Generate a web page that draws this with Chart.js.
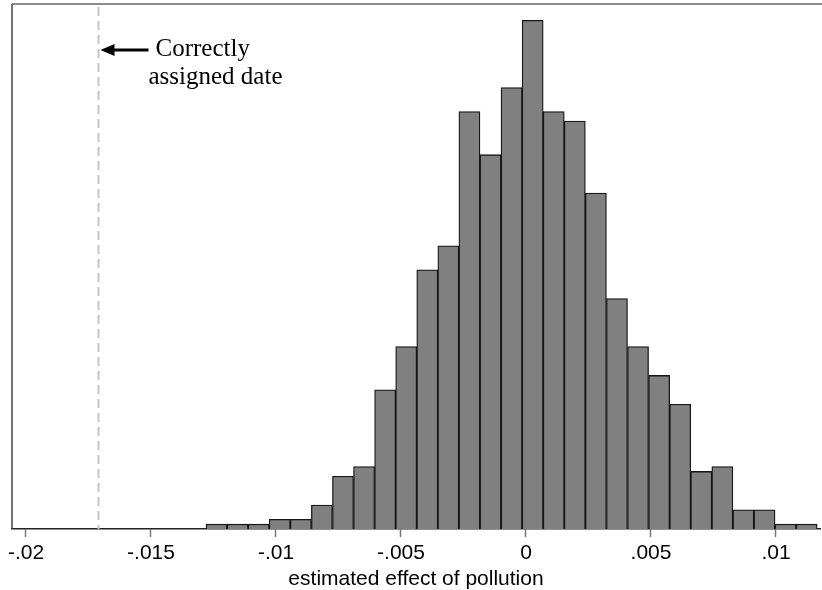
<!DOCTYPE html>
<html>
<head>
<meta charset="utf-8">
<script src="https://cdn.jsdelivr.net/npm/chart.js@4/dist/chart.umd.min.js"></script>
<style>
  body { margin: 0; background: #fff; }
</style>
</head>
<body>
<canvas id="hist" width="822" height="590"></canvas>
<script>
// histogram bins (lower edges + final upper edge) and counts per bin (1000 draws)
const binEdges = [-0.012800, -0.011957, -0.011114, -0.010271, -0.009428, -0.008585,
    -0.007742, -0.006899, -0.006056, -0.005213, -0.004370, -0.003527, -0.002684,
    -0.001841, -0.000998, -0.000155, 0.000688, 0.001531, 0.002374, 0.003217,
    0.004060, 0.004903, 0.005746, 0.006589, 0.007432, 0.008275, 0.009118,
    0.009961, 0.010804, 0.011647];
const counts = [1, 1, 1, 2, 2, 5, 11, 13, 29, 38, 54, 59, 87, 78, 92, 106, 87, 85,
    70, 48, 38, 32, 26, 12, 13, 4, 4, 1, 1];
const xTicks = [-0.02, -0.015, -0.01, -0.005, 0, 0.005, 0.01];
const tickLabels = ['-.02', '-.015', '-.01', '-.005', '0', '.005', '.01'];
const trueEffect = -0.0171;
const noteLines = ['Correctly', 'assigned date'];

const points = counts.map((c, i) => ({ x: (binEdges[i] + binEdges[i + 1]) / 2, y: c }));

const overlay = {
    id: 'overlay',
    beforeDatasetsDraw(chart) {
        const { ctx, chartArea: a, scales: { x } } = chart;
        const px = x.getPixelForValue(trueEffect);
        ctx.save();
        ctx.strokeStyle = '#c6c6c6';
        ctx.lineWidth = 2;
        ctx.setLineDash([9, 5]);
        ctx.beginPath();
        ctx.moveTo(px, a.top + 3);
        ctx.lineTo(px, a.bottom);
        ctx.stroke();
        ctx.restore();
    },
    afterDraw(chart) {
        const { ctx, chartArea: a, scales: { x } } = chart;
        ctx.save();
        // frame: top + left
        ctx.strokeStyle = '#8c8c8c';
        ctx.lineWidth = 2;
        ctx.beginPath();
        ctx.moveTo(a.left, a.top);
        ctx.lineTo(a.right + 2, a.top);
        ctx.stroke();
        ctx.strokeStyle = '#444';
        ctx.lineWidth = 1.5;
        ctx.beginPath();
        ctx.moveTo(a.left, a.top);
        ctx.lineTo(a.left, a.bottom);
        ctx.stroke();

        // arrow + note
        const px = x.getPixelForValue(trueEffect);
        const ay = a.top + 46;
        ctx.strokeStyle = '#000';
        ctx.fillStyle = '#000';
        ctx.lineWidth = 3;
        ctx.beginPath();
        ctx.moveTo(px + 50, ay);
        ctx.lineTo(px + 12, ay);
        ctx.stroke();
        ctx.beginPath();
        ctx.moveTo(px + 2, ay);
        ctx.lineTo(px + 16, ay - 6);
        ctx.lineTo(px + 16, ay + 6);
        ctx.closePath();
        ctx.fill();

        ctx.font = '25px "Liberation Serif", "Times New Roman", serif';
        ctx.textBaseline = 'alphabetic';
        ctx.textAlign = 'left';
        ctx.fillText(noteLines[0], px + 57, a.top + 52);
        ctx.fillText(noteLines[1], px + 50, a.top + 80);
        ctx.restore();
    }
};

new Chart(document.getElementById('hist'), {
    type: 'bar',
    data: {
        datasets: [{
            data: points,
            backgroundColor: '#808080',
            borderColor: '#161616',
            borderWidth: 1.3,
            barPercentage: 1,
            categoryPercentage: 1
        }]
    },
    options: {
        responsive: false,
        animation: false,
        layout: { padding: { left: 12, right: 2, top: 4, bottom: 0 } },
        plugins: { legend: { display: false }, tooltip: { enabled: false } },
        scales: {
            x: {
                type: 'linear',
                offset: false,
                min: -0.02056,
                max: 0.01176,
                afterBuildTicks: (scale) => { scale.ticks = xTicks.map(v => ({ value: v })); },
                afterFit: (scale) => { scale.height = 61; },
                grid: { display: true, drawOnChartArea: false, drawTicks: true, tickLength: 8, tickWidth: 1.5, color: '#777', offset: false },
                border: { display: true, color: '#222', width: 1.5 },
                ticks: {
                    autoSkip: false,
                    maxRotation: 0,
                    padding: 6,
                    color: '#000',
                    font: { family: '"Liberation Sans", Arial, sans-serif', size: 21, lineHeight: 1 },
                    callback: (v, i) => tickLabels[i]
                },
                title: {
                    display: true,
                    text: 'estimated effect of pollution',
                    color: '#000',
                    padding: { top: 5, bottom: 0 },
                    font: { family: '"Liberation Sans", Arial, sans-serif', size: 21, lineHeight: 1 }
                }
            },
            y: {
                display: false,
                min: 0,
                max: 109.4
            }
        }
    },
    plugins: [overlay]
});
</script>
</body>
</html>
